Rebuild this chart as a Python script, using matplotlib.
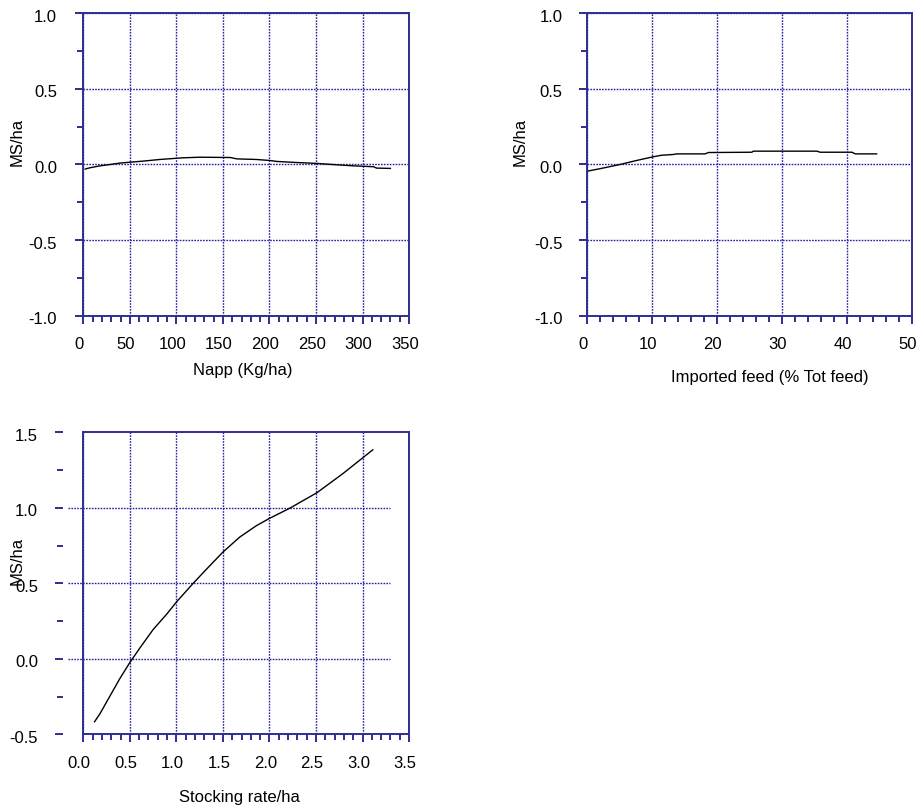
import matplotlib.pyplot as plt
from matplotlib.ticker import MultipleLocator
from matplotlib.transforms import ScaledTranslation

# data
napp = [2, 7, 18, 29, 39, 50, 64, 82, 107, 125, 158, 165, 186, 201, 208, 229, 251, 272, 290, 312, 315, 330]
ms_napp = [-0.030, -0.022, -0.009, 0.0, 0.009, 0.015, 0.022, 0.033, 0.044, 0.048, 0.046,
           0.037, 0.033, 0.026, 0.020, 0.013, 0.007, -0.002, -0.009, -0.015, -0.024, -0.026]

feed = [0.1, 2, 5.1, 7.6, 10.1, 11.5, 13.3, 13.8, 18.2, 18.7, 25.4, 25.6, 35.4, 35.9, 40.8, 41.3, 44.6]
ms_feed = [-0.044, -0.028, 0.0, 0.026, 0.050, 0.061, 0.066, 0.070, 0.070, 0.079, 0.081,
           0.088, 0.088, 0.081, 0.081, 0.070, 0.070]

stock = [0.12, 0.18, 0.29, 0.39, 0.50, 0.61, 0.75, 0.90, 1.00, 1.18, 1.33, 1.50, 1.68,
         1.86, 2.00, 2.22, 2.51, 2.79, 2.99, 3.11]
ms_stock = [-0.417, -0.362, -0.242, -0.133, -0.024, 0.074, 0.194, 0.299, 0.376, 0.500, 0.598,
            0.707, 0.806, 0.882, 0.930, 0.998, 1.100, 1.227, 1.325, 1.384]

plt.rcParams['font.family'] = ['Liberation Sans', 'DejaVu Sans']
plt.rcParams['font.size'] = 12

frame_col = "#2e2e8e"
grid_col = "#2323a8"
grid_ls = (0, (1.2, 0.9))

fig = plt.figure(figsize=(9.2, 8.09), dpi=100)
xshift = ScaledTranslation(-0.04, 0, fig.dpi_scale_trans)
yshift = ScaledTranslation(0, -0.025, fig.dpi_scale_trans)


def style_axes(ax, xlim, ylim, xmajor, xminor, ymajor, yminor, ypad):
    ax.set_xlim(xlim)
    ax.set_ylim(ylim)
    for s in ax.spines.values():
        s.set_color(frame_col)
        s.set_linewidth(1.4)
    ax.xaxis.set_major_locator(MultipleLocator(xmajor))
    ax.xaxis.set_minor_locator(MultipleLocator(xminor))
    ax.yaxis.set_major_locator(MultipleLocator(ymajor))
    ax.yaxis.set_minor_locator(MultipleLocator(yminor))
    ax.tick_params(which='both', direction='out', color=frame_col, width=1.4, labelcolor='black')
    ax.tick_params(which='major', length=5.5)
    ax.tick_params(which='minor', length=4)
    ax.tick_params(axis='x', pad=10)
    ax.tick_params(axis='y', pad=ypad)
    ax.xaxis.set_major_formatter(lambda v, p: f"{v:g}" if xmajor >= 1 else f"{v:.1f}")
    ax.yaxis.set_major_formatter(lambda v, p: f"{v:.1f}")
    ax.grid(axis='x', which='major', linestyle=grid_ls, color=grid_col, linewidth=1)


#1. Napp
ax1 = fig.add_axes([0.0906, 0.6098, 0.354, 0.3738])
style_axes(ax1, (0, 350), (-1, 1), 50, 10, 0.5, 0.25, 13.5)
ax1.grid(axis='y', which='major', linestyle=grid_ls, color=grid_col, linewidth=1)
ax1.plot(napp, ms_napp, color='black', linewidth=1.0)
ax1.set_xlabel("Napp (Kg/ha)")
ax1.set_ylabel("MS/ha")
ax1.xaxis.set_label_coords(0.49, -0.157)
ax1.yaxis.set_label_coords(-0.179, 0.575)

#2. Imported feed
ax2 = fig.add_axes([0.638, 0.6098, 0.353, 0.3738])
style_axes(ax2, (0, 50), (-1, 1), 10, 2, 0.5, 0.25, 12)
ax2.grid(axis='y', which='major', linestyle=grid_ls, color=grid_col, linewidth=1)
ax2.plot(feed, ms_feed, color='black', linewidth=1.0)
ax2.set_xlabel("Imported feed (% Tot feed)")
ax2.set_ylabel("MS/ha")
ax2.xaxis.set_label_coords(0.563, -0.18)
ax2.yaxis.set_label_coords(-0.182, 0.575)

#3. Stocking rate (y axis pulled away from the frame)
ax3 = fig.add_axes([0.0906, 0.0923, 0.354, 0.3733])
style_axes(ax3, (0, 3.5), (-0.5, 1.5), 0.5, 0.1, 0.5, 0.25, 12)
ax3.spines['left'].set_position(('outward', 15))
ax3.spines['left'].set_visible(False)
ax3.axvline(0, color=frame_col, linewidth=1.4, clip_on=False)
ygrid = [t for t in ax3.get_yticks() if -0.5 < t < 1.5]
ax3.hlines(ygrid, -0.046, 0.942, transform=ax3.get_yaxis_transform(),
           colors=grid_col, linestyles=[grid_ls], linewidth=1, clip_on=False, zorder=0.5)
ax3.plot(stock, ms_stock, color='black', linewidth=1.0)
ax3.set_xlabel("Stocking rate/ha")
ax3.set_ylabel("MS/ha")
ax3.xaxis.set_label_coords(0.48, -0.184)
ax3.yaxis.set_label_coords(-0.179, 0.575)

# tick labels sit a little off their ticks in the original
for ax in [ax1, ax2, ax3]:
    for lab in ax.get_xticklabels():
        lab.set_transform(lab.get_transform() + xshift)
    for lab in ax.get_yticklabels():
        lab.set_transform(lab.get_transform() + yshift)

plt.savefig("out.png", dpi=100)
